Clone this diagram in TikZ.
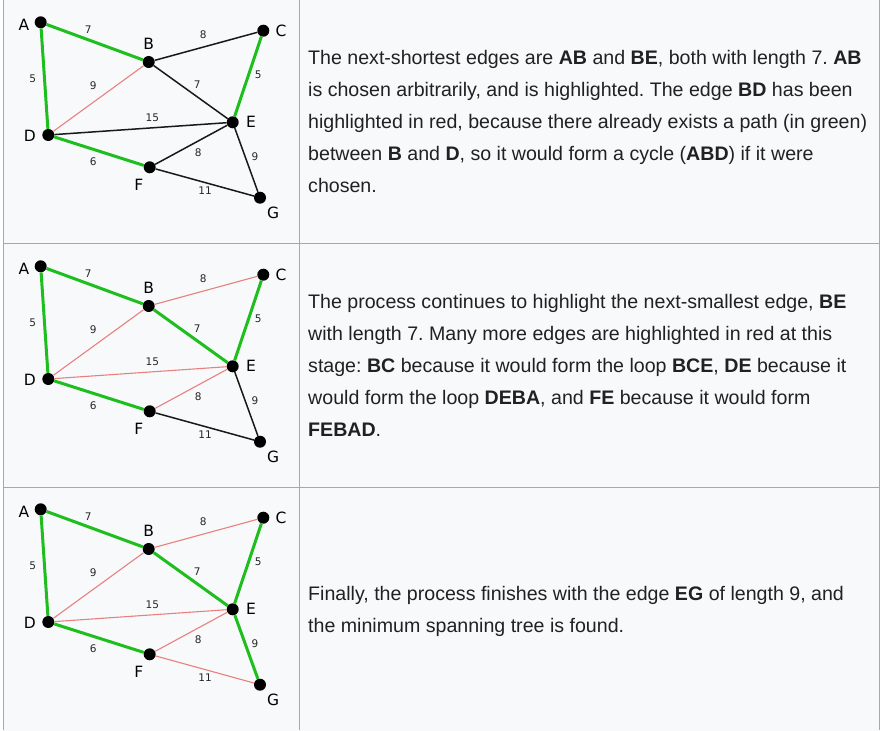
\documentclass[tikz,border=0pt]{standalone}
\usepackage{fontspec}
\setmainfont{Liberation Sans}
\newfontfamily\graphfont{DejaVu Sans}
\usepackage{xcolor}
\usetikzlibrary{positioning}

\definecolor{tablebg}{HTML}{F8F9FA}
\definecolor{tableline}{HTML}{A2A9B1}
\definecolor{bodytext}{HTML}{202122}
\definecolor{treegreen}{RGB}{30,190,30}
\definecolor{cyclered}{RGB}{232,128,128}

\begin{document}
\frenchspacing
\begin{tikzpicture}[x=1pt, y=-1pt,
    vertex/.style={circle, fill=black, minimum size=12pt, inner sep=0pt},
    vname/.style={font=\graphfont\fontsize{15.5}{15.5}\selectfont, inner sep=1pt},
    weight/.style={font=\graphfont\fontsize{10.5}{10.5}\selectfont, text=black!85, inner sep=0pt},
    treeedge/.style={draw=treegreen, line width=3pt},
    cycleedge/.style={draw=cyclered, line width=1.1pt},
    openedge/.style={draw=black!90, line width=1.5pt},
    caption/.style={anchor=north west, inner sep=0pt, align=left, text=bodytext, font=\fontsize{19.6}{32}\selectfont}]
    \useasboundingbox (0,0) rectangle (893,730);
    % table
    \fill[tablebg] (3,0) rectangle (879,731);
    \draw[tableline, line width=1pt] (3.5,0) -- (3.5,730) (299.5,0) -- (299.5,730) (879.5,0) -- (879.5,730)
        (3,243.5) -- (880,243.5) (3,487.5) -- (880,487.5);
    % one graph per row
    \foreach \r/\oy/\bc/\be/\de/\ef/\eg/\fg in {1/0/openedge/openedge/openedge/openedge/openedge/openedge,
        2/244/cycleedge/treeedge/cycleedge/cycleedge/openedge/openedge,
        3/487/cycleedge/treeedge/cycleedge/cycleedge/treeedge/cycleedge}{
      \node[vertex, label={[vname, label distance=4pt, yshift=-2.5pt]left:A}] (A\r) at (40.7,22.3+\oy) {};
      \node[vertex, label={[vname, label distance=5pt]above:B}] (B\r) at (148.7,62+\oy) {};
      \node[vertex, label={[vname, label distance=5pt]right:C}] (C\r) at (263.3,30.7+\oy) {};
      \node[vertex, label={[vname, label distance=5pt, yshift=-1pt]left:D}] (D\r) at (48.3,135+\oy) {};
      \node[vertex, label={[vname, label distance=6pt]right:E}] (E\r) at (232.7,122.3+\oy) {};
      \node[vertex, label={[vname, label distance=5.5pt]-116:F}] (F\r) at (149.7,167.3+\oy) {};
      \node[vertex, label={[vname, label distance=4pt]-54:G}] (G\r) at (260,197.7+\oy) {};
      \draw[treeedge] (A\r) -- (B\r);
      \draw[treeedge] (A\r) -- (D\r);
      \draw[\bc] (B\r) -- (C\r);
      \draw[cycleedge] (B\r) -- (D\r);
      \draw[\be] (B\r) -- (E\r);
      \draw[treeedge] (C\r) -- (E\r);
      \draw[\de] (D\r) -- (E\r);
      \draw[treeedge] (D\r) -- (F\r);
      \draw[\ef] (E\r) -- (F\r);
      \draw[\eg] (E\r) -- (G\r);
      \draw[\fg] (F\r) -- (G\r);
      \foreach \e/\w/\px/\py in {AB/7/88.3/29.3, BC/8/203.3/35, AD/5/32.7/78.3, BD/9/93.3/86,
          BE/7/197.3/85, CE/5/258.3/75, DE/15/152.3/117.7, EF/8/198.3/152.3,
          EG/9/255/156.7, DF/6/93.3/161.7, FG/11/205/191}
        \node[weight] (w\e\r) at (\px,\py+\oy) {\w};
    }
    % captions
    \node[caption] (text1) at (308,50) {The next-shortest edges are \textbf{AB} and \textbf{BE}, both with length 7. \textbf{AB}\\
      is chosen arbitrarily, and is highlighted. The edge \textbf{BD} has been\\
      highlighted in red, because there already exists a path (in green)\\
      between \textbf{B} and \textbf{D}, so it would form a cycle (\textbf{ABD}) if it were\\
      chosen.};
    \node[caption] (text2) at (308,294) {The process continues to highlight the next-smallest edge, \textbf{BE}\\
      with length 7. Many more edges are highlighted in red at this\\
      stage: \textbf{BC} because it would form the loop \textbf{BCE}, \textbf{DE} because it\\
      would form the loop \textbf{DEBA}, and \textbf{FE} because it would form\\
      \textbf{FEBAD}.};
    \node[caption] (text3) at (308,586) {Finally, the process finishes with the edge \textbf{EG} of length 9, and\\
      the minimum spanning tree is found.};
\end{tikzpicture}
\end{document}
